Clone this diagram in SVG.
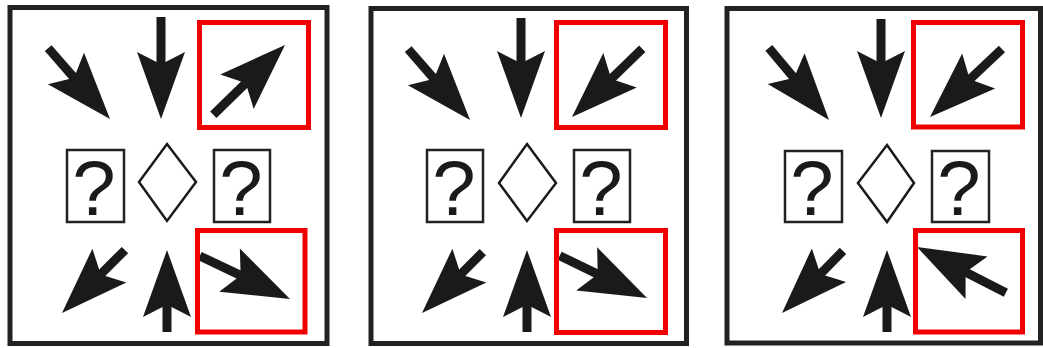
<svg xmlns="http://www.w3.org/2000/svg" xmlns:xlink="http://www.w3.org/1999/xlink" width="1043" height="348" viewBox="0 0 1043 348">
<style>
.panel{fill:none;stroke:#222;stroke-width:5}
.hl{fill:none;stroke:#f00000;stroke-width:5}
.qbox{fill:#fff;stroke:#222;stroke-width:2.5}
.dia{fill:#fff;stroke:#1a1a1a;stroke-width:2.5;stroke-linejoin:miter}
.q{font-family:"Liberation Sans",Arial,sans-serif;font-size:78px;fill:#1a1a1a;text-anchor:middle}
.arr{fill:#1a1a1a}
</style>
<defs>
<path id="head" d="M0,0 L-67,-24 L-57,-4.5 L-57,4.5 L-67,24 Z"/>
</defs>
<rect width="1043" height="348" fill="#fff"/>

<g id="panel1">
<rect class="panel" x="10" y="7.5" width="317" height="336"/>
<g id="p1-q1"><rect class="qbox" x="67" y="150" width="57" height="72"/><text class="q" x="94" y="215">?</text></g>
<g id="p1-diamond"><polygon class="dia" points="167,144 196,182 167,221 139,182"/></g>
<g id="p1-q2"><rect class="qbox" x="214" y="150" width="56" height="72"/><text class="q" x="241" y="215">?</text></g>
<g id="p1-arrows" class="arr">
<g transform="translate(110,119) rotate(48.9)"><use href="#head"/><rect x="-94" y="-4.5" width="38" height="9"/></g>
<g transform="translate(161,119) rotate(90)"><use href="#head"/><rect x="-102" y="-4.5" width="46" height="9"/></g>
<g transform="translate(285,45) rotate(-44.2)"><use href="#head"/><rect x="-100" y="-4.5" width="44" height="9"/></g>
<g transform="translate(62,313) rotate(135)"><use href="#head"/><rect x="-89" y="-4.5" width="33" height="9"/></g>
<g transform="translate(167,250) rotate(-90)"><use href="#head"/><rect x="-82" y="-4.5" width="26" height="9"/></g>
<g transform="translate(290,299) rotate(25.5)"><use href="#head"/><rect x="-100" y="-4.5" width="44" height="9"/></g>
</g>
<rect class="hl" x="199.5" y="22.5" width="109" height="105"/>
<rect class="hl" x="197.5" y="230.5" width="107.5" height="101.5"/>
</g>

<g id="panel2">
<rect class="panel" x="371" y="8.5" width="315.5" height="335"/>
<g id="p2-q1"><rect class="qbox" x="427" y="150" width="56" height="72"/><text class="q" x="454" y="215">?</text></g>
<g id="p2-diamond"><polygon class="dia" points="527,144 556,183 527,221 499,183"/></g>
<g id="p2-q2"><rect class="qbox" x="574" y="150" width="56" height="72"/><text class="q" x="601" y="215">?</text></g>
<g id="p2-arrows" class="arr">
<g transform="translate(470,120) rotate(48.9)"><use href="#head"/><rect x="-94" y="-4.5" width="38" height="9"/></g>
<g transform="translate(521,118) rotate(90)"><use href="#head"/><rect x="-100" y="-4.5" width="44" height="9"/></g>
<g transform="translate(572,117) rotate(135.8)"><use href="#head"/><rect x="-98" y="-4.5" width="42" height="9"/></g>
<g transform="translate(422,313) rotate(135)"><use href="#head"/><rect x="-86" y="-4.5" width="30" height="9"/></g>
<g transform="translate(527,250) rotate(-90)"><use href="#head"/><rect x="-82" y="-4.5" width="26" height="9"/></g>
<g transform="translate(647,298) rotate(25.8)"><use href="#head"/><rect x="-97" y="-4.5" width="41" height="9"/></g>
</g>
<rect class="hl" x="556.5" y="22.5" width="109" height="105"/>
<rect class="hl" x="556.5" y="230.5" width="109" height="102"/>
</g>

<g id="panel3">
<rect class="panel" x="727" y="8.5" width="313.5" height="334.5"/>
<g id="p3-q1"><rect class="qbox" x="785" y="151" width="57" height="71"/><text class="q" x="812" y="215">?</text></g>
<g id="p3-diamond"><polygon class="dia" points="887,145 914,183 887,222 858,183"/></g>
<g id="p3-q2"><rect class="qbox" x="932" y="151" width="57" height="71"/><text class="q" x="959" y="215">?</text></g>
<g id="p3-arrows" class="arr">
<g transform="translate(829,120) rotate(50.2)"><use href="#head"/><rect x="-94" y="-4.5" width="38" height="9"/></g>
<g transform="translate(881,118) rotate(90)"><use href="#head"/><rect x="-99" y="-4.5" width="43" height="9"/></g>
<g transform="translate(930,117) rotate(136.6)"><use href="#head"/><rect x="-99" y="-4.5" width="43" height="9"/></g>
<g transform="translate(782,313) rotate(134.5)"><use href="#head"/><rect x="-87" y="-4.5" width="31" height="9"/></g>
<g transform="translate(887,250) rotate(-90)"><use href="#head"/><rect x="-82" y="-4.5" width="26" height="9"/></g>
<g transform="translate(917,247) rotate(-152.7)"><use href="#head"/><rect x="-100" y="-4.5" width="44" height="9"/></g>
</g>
<rect class="hl" x="913.5" y="22.5" width="109" height="104.5"/>
<rect class="hl" x="915.5" y="230.5" width="107" height="101.5"/>
</g>
</svg>
